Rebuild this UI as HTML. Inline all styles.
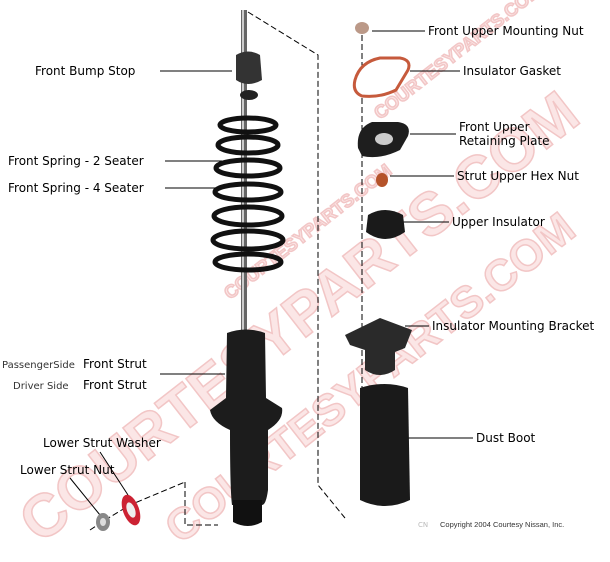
<!DOCTYPE html>
<html><head><meta charset="utf-8"><style>
html,body{margin:0;padding:0;background:#fff;}
svg{display:block;font-family:"DejaVu Sans","Liberation Sans",sans-serif;}
</style></head><body>
<svg width="610" height="562" viewBox="0 0 610 562" xmlns="http://www.w3.org/2000/svg">
<rect width="610" height="562" fill="#fff"/>
<!-- watermark -->
<g fill="#fbe6e6" stroke="#f2c6c6" stroke-width="1.5" font-weight="bold" font-family="Liberation Sans,sans-serif">
<text transform="translate(40,545) rotate(-38)" font-size="60">COURTESYPARTS.COM</text>
<text transform="translate(180,545) rotate(-38)" font-size="44">COURTESYPARTS.COM</text>
<text transform="translate(230,300) rotate(-38)" font-size="18">COURTESYPARTS.COM</text>
<text transform="translate(380,120) rotate(-38)" font-size="18">COURTESYPARTS.COM</text>
</g>
<!-- dashed lines -->
<g stroke="#000" stroke-width="1" fill="none" stroke-dasharray="6,3">
<path d="M248,12 L318,55 L318,485 L345,518"/>
<path d="M362,35 L362,500"/>
<path d="M185,482 L185,525 L218,525"/>
<path d="M90,530 L105,520 L130,505 L185,482"/>
</g>
<!-- leader lines -->
<g stroke="#000" stroke-width="1">
<line x1="160" y1="71" x2="232" y2="71"/>
<line x1="165" y1="161" x2="222" y2="161"/>
<line x1="165" y1="188" x2="215" y2="188"/>
<line x1="160" y1="374" x2="225" y2="374"/>
<line x1="372" y1="31" x2="425" y2="31"/>
<line x1="410" y1="71" x2="460" y2="71"/>
<line x1="410" y1="134" x2="456" y2="134"/>
<line x1="390" y1="176" x2="454" y2="176"/>
<line x1="400" y1="222" x2="449" y2="222"/>
<line x1="405" y1="326" x2="429" y2="326"/>
<line x1="405" y1="438" x2="473" y2="438"/>
<line x1="100" y1="452" x2="128" y2="495"/>
<line x1="70" y1="478" x2="100" y2="515"/>
</g>
<!-- strut rod -->
<rect x="241" y="10" width="6" height="325" fill="#666"/>
<rect x="242" y="10" width="2" height="325" fill="#ccc"/>
<path d="M236,55 Q248,48 260,55 L262,80 Q248,88 236,80 Z" fill="#333"/>
<ellipse cx="249" cy="95" rx="9" ry="5" fill="#222"/>
<g stroke="#111" stroke-width="5" fill="none">
<ellipse cx="248" cy="125" rx="28" ry="7"/>
<ellipse cx="248" cy="145" rx="30" ry="8"/>
<ellipse cx="248" cy="168" rx="32" ry="8"/>
<ellipse cx="248" cy="192" rx="33" ry="8"/>
<ellipse cx="248" cy="216" rx="34" ry="9"/>
<ellipse cx="248" cy="240" rx="35" ry="9"/>
<ellipse cx="248" cy="262" rx="33" ry="8"/>
</g>
<!-- strut body -->
<path d="M227,333 Q246,326 265,333 L266,398 L282,408 Q284,420 268,430 L268,490 Q266,505 262,505 L232,505 Q230,490 230,430 Q212,422 210,410 L226,398 Z" fill="#1c1c1c"/>
<path d="M233,500 L262,500 L262,522 Q248,530 233,522 Z" fill="#111"/>
<!-- lower parts -->
<ellipse cx="131" cy="510" rx="8" ry="16" fill="#c23" transform="rotate(-20 131 510)"/>
<ellipse cx="131" cy="510" rx="4" ry="8" fill="#eee" transform="rotate(-20 131 510)"/>
<ellipse cx="103" cy="522" rx="7" ry="9" fill="#888"/>
<ellipse cx="103" cy="522" rx="3" ry="4" fill="#ddd"/>
<!-- right parts -->
<ellipse cx="362" cy="28" rx="7" ry="6" fill="#b98"/>
<path d="M355,80 Q360,62 380,58 L400,58 Q412,60 408,70 L396,90 Q380,98 362,96 Q352,92 355,80 Z" fill="#fff" stroke="#c65a3c" stroke-width="3"/>
<path d="M358,148 Q356,128 372,122 L398,122 Q412,124 408,136 L400,150 Q380,160 362,156 Z" fill="#1e1e1e"/>
<ellipse cx="384" cy="139" rx="9" ry="6" fill="#ccc"/>
<ellipse cx="382" cy="180" rx="6" ry="7" fill="#b5532a"/>
<path d="M368,215 Q385,205 403,215 L405,232 Q385,246 366,232 Z" fill="#1a1a1a"/>
<path d="M345,335 L380,318 L412,330 L405,348 L395,352 L395,370 Q380,380 365,370 L365,350 L350,345 Z" fill="#2a2a2a"/>
<path d="M360,388 Q385,380 408,388 L410,500 Q385,512 360,500 Z" fill="#1a1a1a"/>
<!-- labels -->
<g font-size="12" fill="#000">
<text x="35" y="75">Front Bump Stop</text>
<text x="8" y="165">Front Spring - 2 Seater</text>
<text x="8" y="192">Front Spring - 4 Seater</text>
<text x="83" y="368">Front Strut</text>
<text x="83" y="389">Front Strut</text>
<text x="43" y="447">Lower Strut Washer</text>
<text x="20" y="474">Lower Strut Nut</text>
<text x="428" y="35">Front Upper Mounting Nut</text>
<text x="463" y="75">Insulator Gasket</text>
<text x="459" y="131">Front Upper</text>
<text x="459" y="145">Retaining Plate</text>
<text x="457" y="180">Strut Upper Hex Nut</text>
<text x="452" y="226">Upper Insulator</text>
<text x="432" y="330">Insulator Mounting Bracket</text>
<text x="476" y="442">Dust Boot</text>
</g>
<g font-size="10" fill="#333">
<text x="2" y="368">PassengerSide</text>
<text x="13" y="389">Driver Side</text>
</g>
<text x="440" y="527" font-size="7.5" fill="#333" font-family="Liberation Sans,sans-serif">Copyright 2004 Courtesy Nissan, Inc.</text>
<text x="418" y="527" font-size="7" fill="#bbb">CN</text>
</svg>
</body></html>
